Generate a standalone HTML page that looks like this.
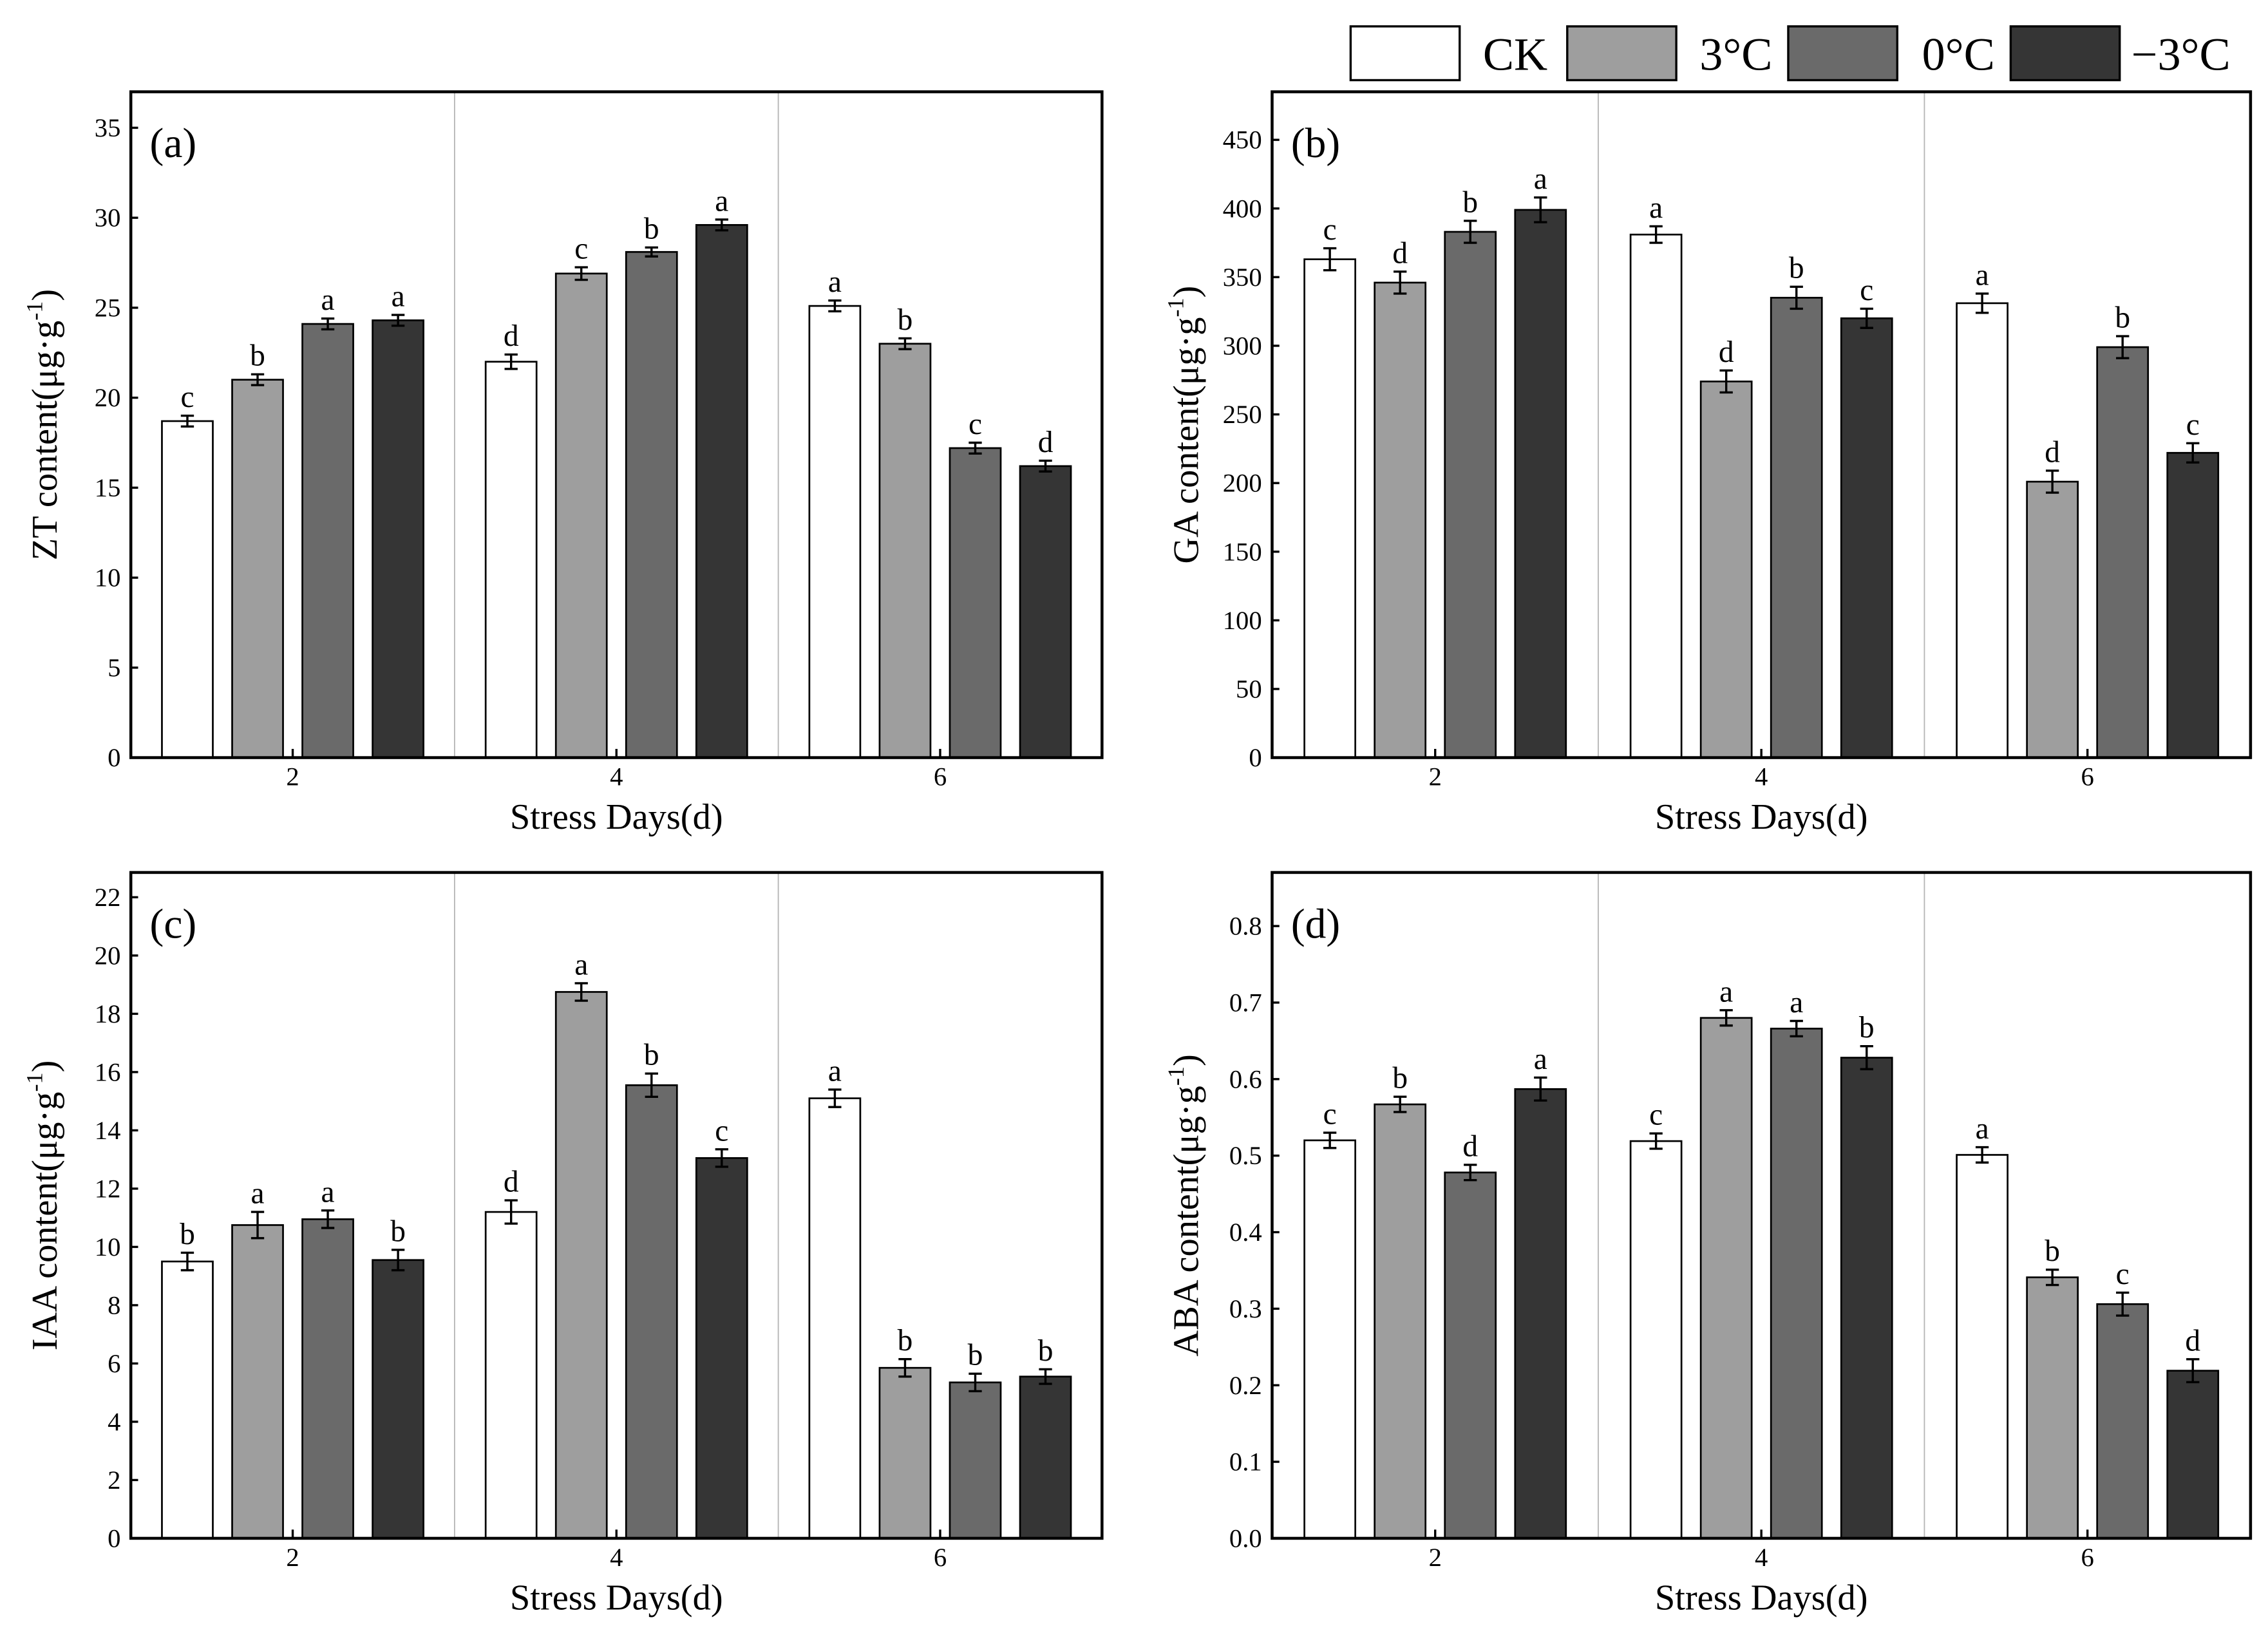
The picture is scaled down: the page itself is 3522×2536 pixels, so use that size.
<!DOCTYPE html>
<html><head><meta charset="utf-8">
<style>
html,body{margin:0;padding:0;background:#fff;}
svg{display:block;}
text{font-family:"Liberation Serif",serif;fill:#000;}
</style></head>
<body>
<svg id="fig" width="3522" height="2536" viewBox="0 0 1560 1123" xmlns="http://www.w3.org/2000/svg">
<g>
  <rect x="929" y="18" width="75" height="37" fill="#ffffff" stroke="#000" stroke-width="1.5"/>
  <text x="1020" y="48" font-size="32">CK</text>
  <rect x="1078" y="18" width="75" height="37" fill="#9e9e9e" stroke="#000" stroke-width="1.5"/>
  <text x="1169" y="48" font-size="32">3°C</text>
  <rect x="1230" y="18" width="75" height="37" fill="#6a6a6a" stroke="#000" stroke-width="1.5"/>
  <text x="1322" y="48" font-size="32">0°C</text>
  <rect x="1383" y="18" width="75" height="37" fill="#353535" stroke="#000" stroke-width="1.5"/>
  <text x="1466" y="48" font-size="32">−3°C</text>
</g>
</svg>
<script>
const days = ["2","4","6"];
const colors = ["#ffffff","#9e9e9e","#6a6a6a","#353535"];
// Panel (a) ZT
const ztValues = [[18.7,21.0,24.1,24.3],[22.0,26.9,28.1,29.6],[25.1,23.0,17.2,16.2]];
const ztErrors = [[0.3,0.3,0.3,0.3],[0.4,0.35,0.25,0.3],[0.3,0.3,0.3,0.3]];
const ztLetters = [["c","b","a","a"],["d","c","b","a"],["a","b","c","d"]];
const ztTicks = [0,5,10,15,20,25,30,35];
// Panel (b) GA
const gaValues = [[363,346,383,399],[381,274,335,320],[331,201,299,222]];
const gaErrors = [[8,8,8,9],[6,8,8,7],[7,8,8,7]];
const gaLetters = [["c","d","b","a"],["a","d","b","c"],["a","d","b","c"]];
const gaTicks = [0,50,100,150,200,250,300,350,400,450];
// Panel (c) IAA
const iaaValues = [[9.5,10.75,10.95,9.55],[11.2,18.75,15.55,13.05],[15.1,5.85,5.35,5.55]];
const iaaErrors = [[0.3,0.45,0.3,0.35],[0.4,0.3,0.4,0.3],[0.3,0.3,0.3,0.25]];
const iaaLetters = [["b","a","a","b"],["d","a","b","c"],["a","b","b","b"]];
const iaaTicks = [0,2,4,6,8,10,12,14,16,18,20,22];
// Panel (d) ABA
const abaValues = [[0.520,0.567,0.478,0.587],[0.519,0.680,0.666,0.628],[0.501,0.341,0.306,0.219]];
const abaErrors = [[0.01,0.01,0.01,0.015],[0.01,0.01,0.01,0.015],[0.01,0.01,0.015,0.015]];
const abaLetters = [["c","b","d","a"],["c","a","a","b"],["a","b","c","d"]];
const abaTicks = [0.0,0.1,0.2,0.3,0.4,0.5,0.6,0.7,0.8];

const NS = "http://www.w3.org/2000/svg";
const svg = document.getElementById("fig");
function mk(tag, attrs, parent){
  const e = document.createElementNS(NS, tag);
  for (const k in attrs) e.setAttribute(k, attrs[k]);
  (parent||svg).appendChild(e);
  return e;
}
function panel(cfg){
  const g = mk("g", {});
  
  
  const L=cfg.x0, R=cfg.x1, T=cfg.y0, B=cfg.y1;
  const yScale = v => B - (v/cfg.max)*(B-T);
  const W = R-L, gw = W/3;
  const xCenter = i => L + gw*(i+0.5);
  for (let i=1;i<3;i++){
    const s = mk("line",{x1:L+gw*i,x2:L+gw*i,y1:T,y2:B,stroke:"#b5b5b5","stroke-width":0.8},g);
    
    
  }
  for (let gi=0; gi<3; gi++){
    for (let s=0; s<4; s++){
      const v = cfg.values[gi][s], e = cfg.errors[gi][s];
      const cx = xCenter(gi) + (s-1.5)*48.3;
      const bw = 35;
      const y = yScale(v);
      const r = mk("rect",{x:cx-bw/2,y:y,width:bw,height:B-y,fill:colors[s],stroke:"#000","stroke-width":1.2},g);
      
      
      const yt = yScale(v+e), yb = yScale(v-e);
      const eb = mk("path",{d:`M${cx},${yt}V${yb}M${cx-4.5},${yt}H${cx+4.5}M${cx-4.5},${yb}H${cx+4.5}`,stroke:"#000","stroke-width":1.5,fill:"none"},g);
      
      
      const t = mk("text",{x:cx,y:yt-6,"font-size":21,"text-anchor":"middle"},g);
      t.textContent = cfg.letters[gi][s];
      
      
    }
  }
  const f = mk("rect",{x:L,y:T,width:W,height:B-T,fill:"none",stroke:"#000","stroke-width":2},g);
  
  
  cfg.ticks.forEach(tv=>{
    const y = yScale(tv);
    const tk = mk("line",{x1:L,x2:L+5,y1:y,y2:y,stroke:"#000","stroke-width":1.5},g);
    
    
    const tl = mk("text",{x:L-7,y:y+6,"font-size":18,"text-anchor":"end"},g);
    tl.textContent = cfg.fmt(tv);
    
    
  });
  days.forEach((d,i)=>{
    const x = xCenter(i);
    const tk = mk("line",{x1:x,x2:x,y1:B,y2:B-6,stroke:"#000","stroke-width":1.5},g);
    
    
    const tl = mk("text",{x:x,y:B+19,"font-size":18,"text-anchor":"middle"},g);
    tl.textContent = d;
    
    
  });
  const xt = mk("text",{x:(L+R)/2,y:B+49,"font-size":25,"text-anchor":"middle"},g);
  xt.textContent = "Stress Days(d)";
  
  
  const yx = L-51, yy=(T+B)/2;
  const yt = mk("text",{x:yx,y:yy,"font-size":25,"text-anchor":"middle",transform:`rotate(-90 ${yx} ${yy})`},g);
  
  
  const t1 = mk("tspan",{},yt); t1.textContent = cfg.ylabel+" content(μg·g";
  const t2 = mk("tspan",{dy:-10,"font-size":16},yt); t2.textContent = "-1";
  const t3 = mk("tspan",{dy:10},yt); t3.textContent = ")";
  const pl = mk("text",{x:L+13,y:T+45,"font-size":29},g);
  pl.textContent = cfg.label;
  
  
}
const f0 = v=>String(v), f1 = v=>v.toFixed(1);
panel({name:"panel-zt",label:"(a)",ylabel:"ZT",x0:90,x1:758,y0:63,y1:521,max:37,values:ztValues,errors:ztErrors,letters:ztLetters,ticks:ztTicks,fmt:f0});
panel({name:"panel-ga",label:"(b)",ylabel:"GA",x0:875,x1:1548,y0:63,y1:521,max:485,values:gaValues,errors:gaErrors,letters:gaLetters,ticks:gaTicks,fmt:f0});
panel({name:"panel-iaa",label:"(c)",ylabel:"IAA",x0:90,x1:758,y0:600,y1:1058,max:22.85,values:iaaValues,errors:iaaErrors,letters:iaaLetters,ticks:iaaTicks,fmt:f0});
panel({name:"panel-aba",label:"(d)",ylabel:"ABA",x0:875,x1:1548,y0:600,y1:1058,max:0.87,values:abaValues,errors:abaErrors,letters:abaLetters,ticks:abaTicks,fmt:f1});
</script>
</body></html>
